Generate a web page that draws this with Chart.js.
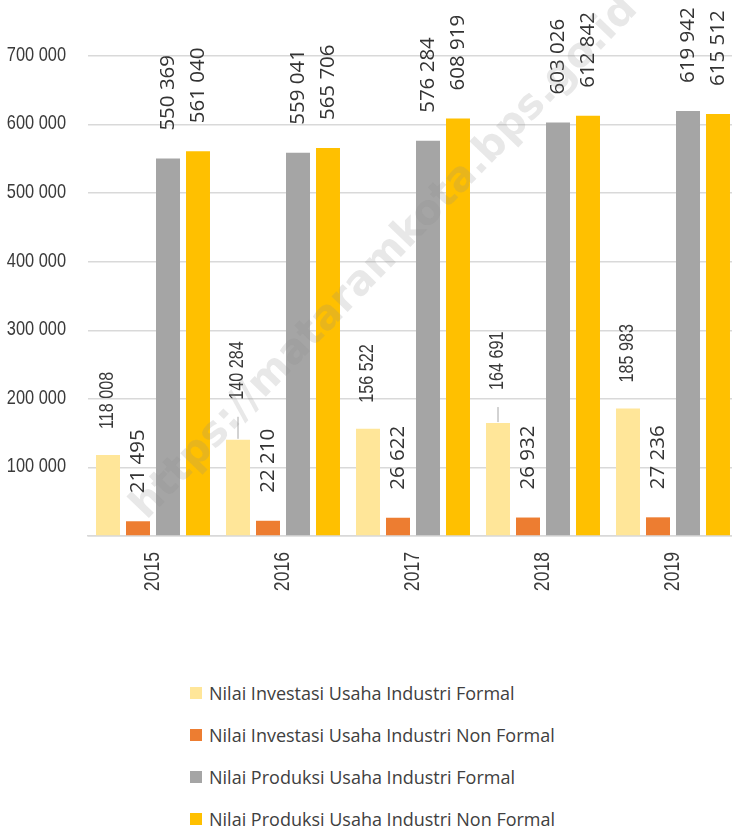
<!DOCTYPE html>
<html>
<head>
<meta charset="utf-8">
<script src="https://cdn.jsdelivr.net/npm/chart.js@4.4.1/dist/chart.umd.min.js"></script>
<style>
    body { margin: 0; overflow: hidden; background: #fff; }
    #wrap { position: relative; width: 740px; height: 600px; }
    #legend { margin-top: 72px; margin-left: 190px; font-family: 'Open Sans', sans-serif; font-size: 18px; color: #404040; }
    #legend div { height: 42px; line-height: 42px; display: flex; align-items: center; }
    #legend span.box { display: inline-block; width: 12px; height: 12px; margin-right: 7px; }
</style>
</head>
<body>
<div id="wrap"><canvas id="mychart"></canvas></div>
<div id="legend"></div>
<script>
var years = ['2015', '2016', '2017', '2018', '2019'];
var seriesNames = [
    'Nilai Investasi Usaha Industri Formal',
    'Nilai Investasi Usaha Industri Non Formal',
    'Nilai Produksi Usaha Industri Formal',
    'Nilai Produksi Usaha Industri Non Formal'
];
var investFormal = [118008, 140284, 156522, 164691, 185983];
var investNonFormal = [21495, 22210, 26622, 26932, 27236];
var prodFormal = [550369, 559041, 576284, 603026, 619942];
var prodNonFormal = [561040, 565706, 608919, 612842, 615512];
var yTicks = [0, 100000, 200000, 300000, 400000, 500000, 600000, 700000];

var colors = ['#FFE699', '#ED7D31', '#A5A5A5', '#FFC000'];
var textColor = '#3a3a3a';

function fmt(v) {
    return v.toString().replace(/\B(?=(\d{3})+(?!\d))/g, ' ');
}

// narrow text: Liberation Sans squeezed along the text direction
function narrowText(ctx, txt, x, y, angle, size, squeeze, align) {
    ctx.save();
    ctx.translate(x, y);
    ctx.rotate(angle);
    ctx.scale(squeeze, 1);
    ctx.font = size + "px 'Liberation Sans', Arial, sans-serif";
    ctx.fillStyle = textColor;
    ctx.textAlign = align;
    ctx.textBaseline = 'middle';
    ctx.fillText(txt, 0, 0);
    ctx.restore();
}

var axisLabels = {
    id: 'axisLabels',
    afterDraw: function(chart) {
        var ctx = chart.ctx;
        var ys = chart.scales.y;
        var xs = chart.scales.x;
        ys.ticks.forEach(function(t) {
            if (t.value == 0) return;
            narrowText(ctx, fmt(t.value), chart.chartArea.left - 22, ys.getPixelForValue(t.value) - 1, 0, 21, 0.78, 'right');
        });
        xs.ticks.forEach(function(t, i) {
            narrowText(ctx, xs.getLabelForValue(t.value), xs.getPixelForTick(i), chart.chartArea.bottom + 16, -Math.PI / 2, 22, 0.8, 'right');
        });
    }
};

var valueLabels = {
    id: 'valueLabels',
    afterDatasetsDraw: function(chart, args, opts) {
        var ctx = chart.ctx;
        chart.data.datasets.forEach(function(ds, i) {
            var meta = chart.getDatasetMeta(i);
            var extra = opts.shift[i] || [];
            meta.data.forEach(function(bar, j) {
                var gap = (i == 0 ? 26 : 28) + (extra[j] || 0);
                if (extra[j]) {
                    ctx.save();
                    ctx.strokeStyle = '#a6a6a6';
                    ctx.lineWidth = 1;
                    ctx.beginPath();
                    ctx.moveTo(bar.x, bar.y - 1);
                    ctx.lineTo(bar.x, bar.y - gap + 17);
                    ctx.stroke();
                    ctx.restore();
                }
                if (i == 0) {
                    narrowText(ctx, fmt(ds.data[j]), bar.x, bar.y - gap, -Math.PI / 2, 19.5, 0.83, 'left');
                    return;
                }
                ctx.save();
                ctx.translate(bar.x, bar.y - gap);
                ctx.rotate(-Math.PI / 2);
                ctx.fillStyle = '#333333';
                ctx.textAlign = 'left';
                ctx.textBaseline = 'middle';
                ctx.font = "20.5px 'Open Sans', sans-serif";
                ctx.fillText(fmt(ds.data[j]), 0, 0);
                ctx.restore();
            });
        });
    }
};

var watermark = {
    id: 'watermark',
    afterDraw: function(chart) {
        var ctx = chart.ctx;
        ctx.save();
        ctx.translate(385, 258);
        ctx.rotate(-46 * Math.PI / 180);
        ctx.font = "bold 41px 'DejaVu Sans', sans-serif";
        ctx.fillStyle = 'rgba(140,140,140,0.2)';
        ctx.textAlign = 'center';
        ctx.textBaseline = 'middle';
        ctx.fillText('https://mataramkota.bps.go.id', 0, 0);
        ctx.restore();
    }
};

var config = {
    type: 'bar',
    data: {
        labels: years,
        datasets: [
            { label: seriesNames[0], data: investFormal, backgroundColor: colors[0] },
            { label: seriesNames[1], data: investNonFormal, backgroundColor: colors[1] },
            { label: seriesNames[2], data: prodFormal, backgroundColor: colors[2] },
            { label: seriesNames[3], data: prodNonFormal, backgroundColor: colors[3] }
        ]
    },
    options: {
        responsive: true,
        maintainAspectRatio: false,
        animation: false,
        datasets: { bar: { categoryPercentage: 0.923, barPercentage: 0.8 } },
        layout: { padding: { top: 56, right: 2, left: 0, bottom: 0 } },
        plugins: {
            legend: { display: false },
            tooltip: { enabled: false },
            valueLabels: { shift: { 0: [0, 14, 0, 7, 0] } }
        },
        scales: {
            x: {
                grid: { display: false },
                border: { display: true, color: '#d9d9d9', width: 1.5 },
                ticks: { display: false },
                afterFit: function(scale) { scale.height = 64; }
            },
            y: {
                min: 0,
                max: 700000,
                afterBuildTicks: function(scale) {
                    scale.ticks = yTicks.map(function(v) { return { value: v }; });
                },
                grid: { color: '#d9d9d9', lineWidth: 1.5, drawTicks: false },
                border: { display: false },
                ticks: { display: false },
                afterFit: function(scale) { scale.width = 88; }
            }
        }
    },
    plugins: [valueLabels, axisLabels, watermark]
};

var ctx = document.getElementById('mychart').getContext('2d');
window.myBar = new Chart(ctx, config);

var legend = document.getElementById('legend');
config.data.datasets.forEach(function(ds) {
    var row = document.createElement('div');
    var box = document.createElement('span');
    box.className = 'box';
    box.style.background = ds.backgroundColor;
    row.appendChild(box);
    row.appendChild(document.createTextNode(ds.label));
    legend.appendChild(row);
});
</script>
</body>
</html>
